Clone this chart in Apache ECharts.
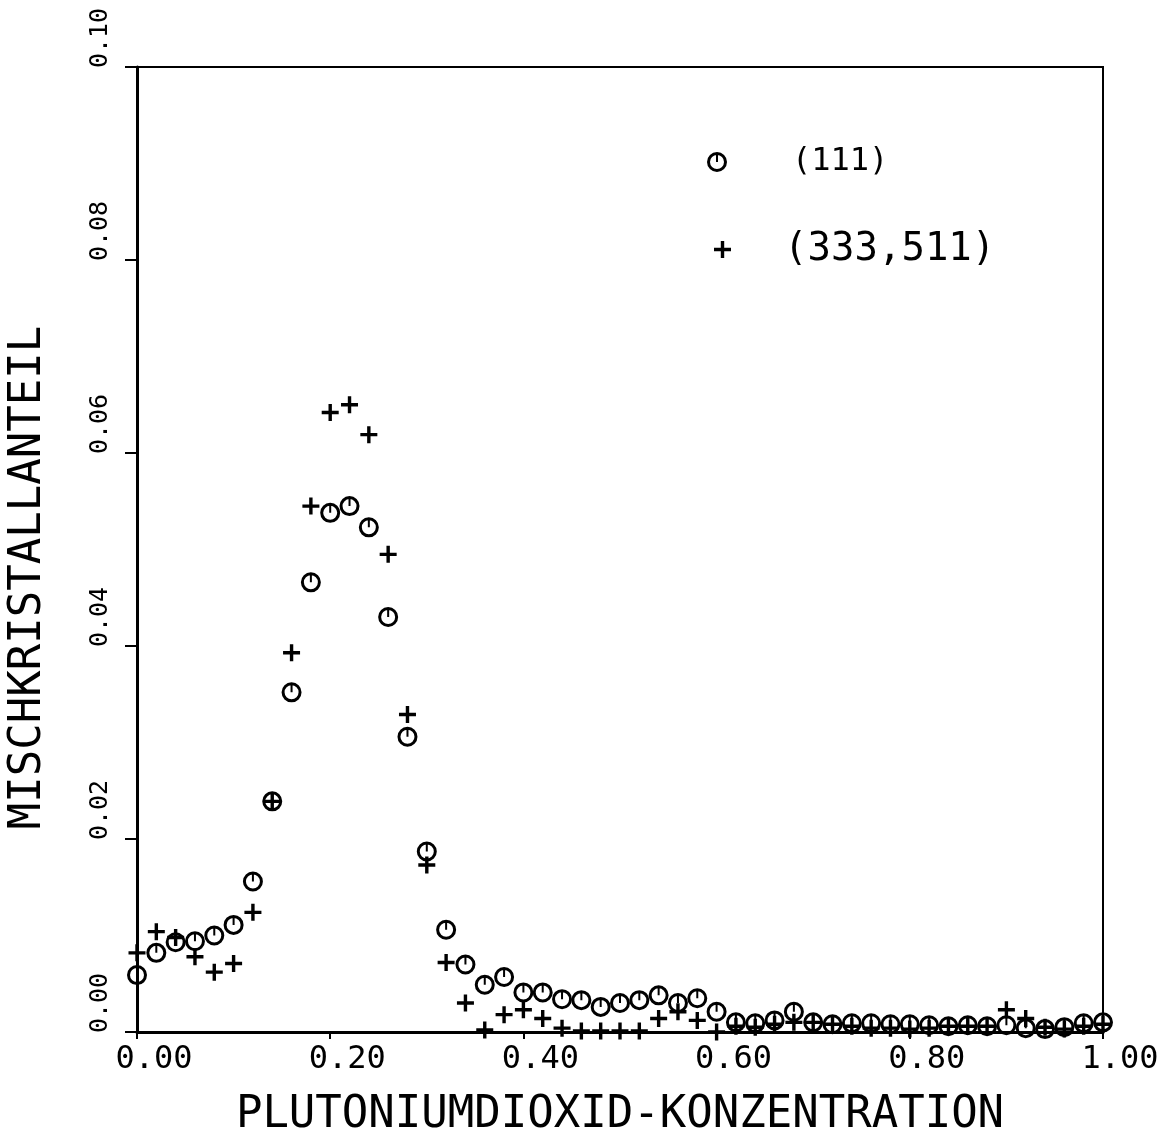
<!DOCTYPE html>
<html>
<head>
<meta charset="utf-8">
<script src="https://cdn.jsdelivr.net/npm/echarts@6/dist/echarts.min.js"></script>
<style>
html,body{margin:0;padding:0;background:#fff;}
#chart{width:1175px;height:1136px;}
</style>
</head>
<body>
<div id="chart"></div>
<script>
// x positions (PuO2 concentration)
const xValues = [0.00,0.02,0.04,0.06,0.08,0.10,0.12,0.14,0.16,0.18,0.20,0.22,0.24,0.26,0.28,0.30,0.32,0.34,0.36,0.38,0.40,0.42,0.44,0.46,0.48,0.50,0.52,0.54,0.56,0.58,0.60,0.62,0.64,0.66,0.68,0.70,0.72,0.74,0.76,0.78,0.80,0.82,0.84,0.86,0.88,0.90,0.92,0.94,0.96,0.98,1.00];
// (111) reflection
const circleValues = [0.0059,0.0082,0.0093,0.0094,0.0100,0.0111,0.0156,0.0239,0.0352,0.0466,0.0538,0.0545,0.0523,0.0430,0.0306,0.0187,0.0106,0.0070,0.0049,0.0057,0.0041,0.0041,0.0034,0.0033,0.0026,0.0030,0.0033,0.0038,0.0030,0.0035,0.0021,0.0010,0.0009,0.0012,0.0021,0.0010,0.0008,0.0009,0.0009,0.0008,0.0008,0.0007,0.0006,0.0007,0.0006,0.0007,0.0004,0.0003,0.0005,0.0009,0.0010];
// (333,511) reflections
const plusValues = [0.0082,0.0104,0.0098,0.0078,0.0062,0.0071,0.0124,0.0239,0.0393,0.0545,0.0642,0.0650,0.0619,0.0495,0.0329,0.0173,0.0072,0.0030,0.0002,0.0018,0.0023,0.0014,0.0004,0.0001,0.0001,0.0001,0.0001,0.0014,0.0021,0.0012,0.0000,0.0006,0.0005,0.0008,0.0010,0.0010,0.0008,0.0006,0.0004,0.0004,0.0003,0.0004,0.0006,0.0006,0.0006,0.0023,0.0014,0.0005,0.0003,0.0006,0.0008];
const seriesNames = ['(111)','(333,511)'];
const xTitle = 'PLUTONIUMDIOXID-KONZENTRATION';
const yTitle = 'MISCHKRISTALLANTEIL';

const circleData = xValues.map((x,i)=>[x,circleValues[i]]);
const plusData = xValues.map((x,i)=>[x,plusValues[i]]);

const FONT = 'DejaVu Sans Mono';
const circleSymbol = 'path://M10,0A10,10 0 1,1 10,20A10,10 0 1,1 10,0Z M10,3A7,7 0 1,0 10,17A7,7 0 1,0 10,3Z M9,3h2v7h-2z';
const plusSymbol = 'path://M8,0h4v8h8v4h-8v8h-4v-8h-8v-4h8z';

const chart = echarts.init(document.getElementById('chart'), null, {renderer:'canvas'});
chart.setOption({
  animation:false,
  backgroundColor:'#fff',
  grid:{left:137,right:72,top:67,bottom:104,show:true,borderColor:'#000',borderWidth:2,outerBoundsMode:'none'},
  legend:[
    {data:[seriesNames[0]],left:707,top:146,padding:0,itemWidth:20,itemHeight:20,
     textStyle:{fontFamily:FONT,fontSize:32,color:'#000',padding:[0,0,20,60]}},
    {data:[seriesNames[1]],left:714,top:230,padding:0,itemWidth:17,itemHeight:17,
     textStyle:{fontFamily:FONT,fontSize:39,color:'#000',padding:[0,0,0,48]}}
  ],
  xAxis:{
    type:'value',min:0,max:1,interval:0.2,
    name:xTitle,nameLocation:'middle',nameGap:62,
    nameTextStyle:{fontFamily:FONT,fontSize:44,color:'#000'},
    axisLine:{show:true,onZero:false,lineStyle:{color:'#000',width:3}},
    axisTick:{show:true,inside:false,length:7,lineStyle:{color:'#000',width:2}},
    axisLabel:{margin:12,fontFamily:FONT,fontSize:32,color:'#000',padding:[0,0,0,34],
      formatter:v=>v.toFixed(2)},
    splitLine:{show:false}
  },
  yAxis:{
    type:'value',min:0,max:0.1,interval:0.02,
    name:yTitle,nameLocation:'middle',nameGap:86,nameRotate:90,
    nameTextStyle:{fontFamily:FONT,fontSize:44,color:'#000',padding:[0,56,0,0]},
    axisLine:{show:true,onZero:false,lineStyle:{color:'#000',width:3}},
    axisTick:{show:true,inside:false,length:12,lineStyle:{color:'#000',width:2}},
    axisLabel:{rotate:90,margin:24,fontFamily:FONT,fontSize:25,color:'#000',padding:[0,0,0,58],
      formatter:v=>v.toFixed(2)},
    splitLine:{show:false}
  },
  series:[
    {name:seriesNames[1],type:'scatter',data:plusData,symbol:plusSymbol,symbolSize:17,
     itemStyle:{color:'#000',opacity:1},z:2},
    {name:seriesNames[0],type:'scatter',data:circleData,symbol:circleSymbol,symbolSize:20,
     itemStyle:{color:'#000',opacity:1},z:3}
  ]
});
</script>
</body>
</html>
